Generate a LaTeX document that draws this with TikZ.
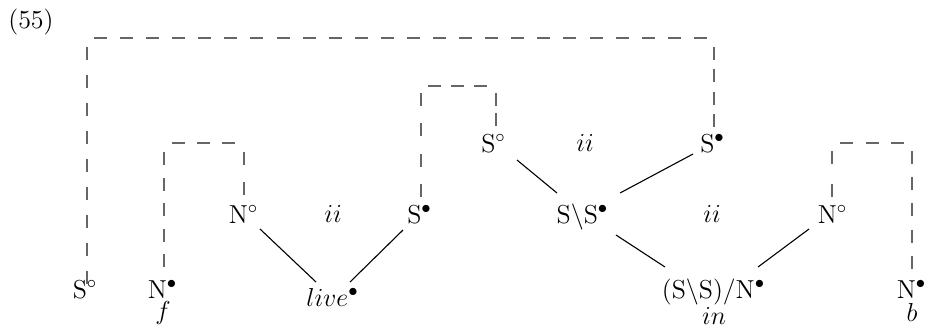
\RequirePackage{fix-cm}
\documentclass[tikz,border=0pt]{standalone}
\begin{document}
\begin{tikzpicture}[
  x=0.5pt, y=-0.5pt,
  lbl/.style={anchor=base, inner sep=0pt, font=\fontsize{13}{15}\selectfont},
  dl/.style={draw=black!60, line width=0.7pt},
  sl/.style={draw=black, line width=0.55pt}
]
\useasboundingbox (0,0) rectangle (930,329);

% example number
\node[lbl] (ex) at (31,28.5) {(55)};

% bottom row
\node[lbl] (Sa)  at (85,298)    {S$^\circ$};
\node[lbl] (Nf)  at (162.5,298) {N$^\bullet$};
\node[lbl] (wf)  at (163,319)   {$f$};
\node[lbl] (live) at (332.5,306) {$live^\bullet$};
\node[lbl] (SSN) at (713.5,298) {(S$\backslash$S)/N$^\bullet$};
\node[lbl] (win) at (714,324)   {$in$};
\node[lbl] (Nb)  at (911.5,298) {N$^\bullet$};
\node[lbl] (wb)  at (912,321)   {$b$};

% middle row
\node[lbl] (Nc1) at (243.5,223) {N$^\circ$};
\node[lbl] (ii1) at (333,222)   {$ii$};
\node[lbl] (Sb)  at (419.5,223) {S$^\bullet$};
\node[lbl] (SS)  at (582.5,223) {S$\backslash$S$^\bullet$};
\node[lbl] (ii3) at (712,222)   {$ii$};
\node[lbl] (Nc2) at (832.5,223) {N$^\circ$};

% top row
\node[lbl] (Sc)  at (493.5,152) {S$^\circ$};
\node[lbl] (ii2) at (585,151)   {$ii$};
\node[lbl] (Sd)  at (712.5,152) {S$^\bullet$};

% corners of the dashed brackets
\coordinate (k1a) at (87,38);   \coordinate (k1b) at (714,38);
\coordinate (k2a) at (164,143); \coordinate (k2b) at (244,143);
\coordinate (k3a) at (421,86);  \coordinate (k3b) at (496,86);
\coordinate (k4a) at (832,143); \coordinate (k4b) at (912,143);

% dashed brackets: up, across, down, with a gap at each corner;
% equal dashes, the gaps of each piece sized so it starts and ends on a dash
\draw[dl, dash pattern=on 6.5pt off 7.5pt]  ([shift={(2,-14)}]Sa.base) -- ([yshift=-4.5pt]k1a);
\draw[dl, dash pattern=on 6.5pt off 6.54pt] ([xshift=3.5pt]k1a) -- ([xshift=-3.5pt]k1b);
\draw[dl, dash pattern=on 6.5pt off 4.67pt] ([yshift=-4.5pt]k1b) -- ([shift={(1.5,-25)}]Sd.base);

\draw[dl, dash pattern=on 6.5pt off 6.25pt] ([shift={(1.5,-31)}]Nf.base) -- ([yshift=-4.5pt]k2a);
\draw[dl, dash pattern=on 6.5pt off 6pt]    ([xshift=4pt]k2a) -- ([xshift=-4.5pt]k2b);
\draw[dl, dash pattern=on 6.5pt off 8.5pt]  ([yshift=-4.5pt]k2b) -- ([shift={(0.5,-28)}]Nc1.base);

\draw[dl, dash pattern=on 6.5pt off 8.67pt] ([shift={(1.5,-26)}]Sb.base) -- ([yshift=-3.5pt]k3a);
\draw[dl, dash pattern=on 6.5pt off 5pt]    ([xshift=3.5pt]k3a) -- ([xshift=-4.5pt]k3b);
\draw[dl, dash pattern=on 6.5pt off 3.5pt]  ([yshift=-3.5pt]k3b) -- ([shift={(2.5,-26)}]Sc.base);

\draw[dl, dash pattern=on 6.5pt off 10pt]   ([shift={(-0.5,-26)}]Nc2.base) -- ([yshift=-4pt]k4a);
\draw[dl, dash pattern=on 6.5pt off 6.25pt] ([xshift=4pt]k4a) -- ([xshift=-4pt]k4b);
\draw[dl, dash pattern=on 6.5pt off 6.62pt] ([yshift=-4pt]k4b) -- ([shift={(0.5,-29)}]Nb.base);

% solid connectors
\draw[sl] ([shift={(16.5,6)}]Nc1.base) -- ([shift={(-16.5,-24)}]live.base);
\draw[sl] ([shift={(17.5,-24)}]live.base) -- ([shift={(-16.5,7)}]Sb.base);
\draw[sl] ([shift={(23.5,8)}]Sc.base) -- ([shift={(-25.5,-30)}]SS.base);
\draw[sl] ([shift={(37.5,-30)}]SS.base) -- ([shift={(-19.5,2)}]Sd.base);
\draw[sl] ([shift={(33.5,12)}]SS.base) -- ([shift={(-48.5,-31)}]SSN.base);
\draw[sl] ([shift={(44.5,-31)}]SSN.base) -- ([shift={(-23.5,6)}]Nc2.base);
\end{tikzpicture}
\end{document}
